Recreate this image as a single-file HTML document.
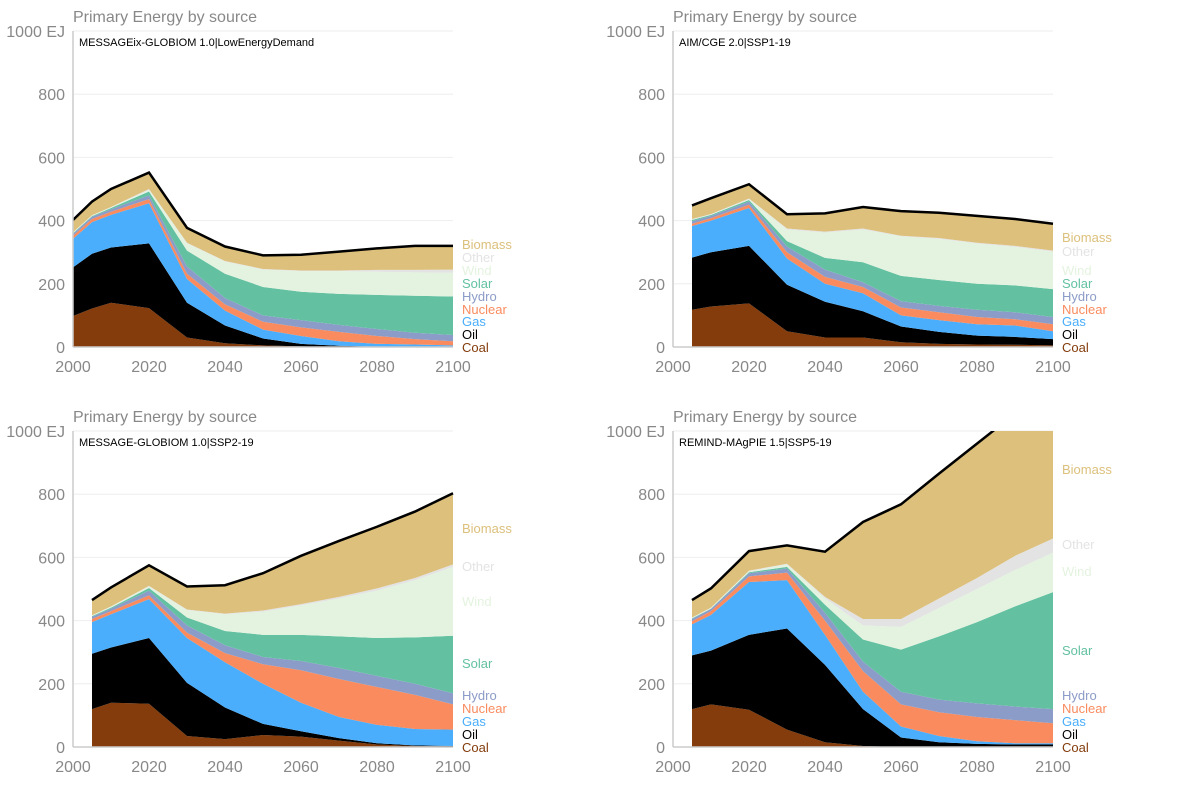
<!DOCTYPE html>
<html><head><meta charset="utf-8"><style>
body{margin:0;background:#fff;width:1200px;height:800px;overflow:hidden;font-family:"Liberation Sans",sans-serif}
svg{position:absolute;left:0;top:0}
</style></head><body>
<svg id="c" width="1200" height="800"></svg>
<script>
const seriesNames=["Coal","Oil","Gas","Nuclear","Hydro","Solar","Wind","Other","Biomass"];
const seriesColors=["#843c0c","#000000","#4aaefc","#f98b5e","#8c9cc8","#63c1a2","#e4f3df","#e3e3e3","#dcc07c"];
const yTicks=[0,200,400,600,800,1000];
const xTicks=[2000,2020,2040,2060,2080,2100];
const years1=[2000,2005,2010,2020,2030,2040,2050,2060,2070,2080,2090,2100];
const yearsB=[2005,2010,2020,2030,2040,2050,2060,2070,2080,2090,2100];
const p1Coal=[98,122,140,123,30,12,5,2,0,0,0,0];
const p1Oil=[154,173,175,205,110,56,22,8,4,1,0,0];
const p1Gas=[90,100,103,127,75,47,28,25,14,9,8,5];
const p1Nuclear=[10,10,10,13,17,20,25,27,30,25,17,13];
const p1Hydro=[6,7,8,12,23,20,20,23,22,22,20,20];
const p1Solar=[2,2,4,12,50,77,90,90,98,108,117,122];
const p1Wind=[2,2,2,5,23,38,55,65,72,73,74,75];
const p1Other=[1,1,1,3,2,2,2,2,2,6,8,10];
const p1Biomass=[39,43,57,52,47,46,43,50,60,68,76,75];
const p2Coal=[118,128,138,50,30,30,15,10,8,7,5];
const p2Oil=[165,172,182,147,113,83,50,38,28,25,20];
const p2Gas=[100,100,120,83,57,57,35,37,36,36,25];
const p2Nuclear=[7,8,10,20,22,20,25,25,23,20,22];
const p2Hydro=[8,7,10,18,23,15,20,20,23,22,23];
const p2Solar=[4,3,5,17,37,63,80,82,82,85,88];
const p2Wind=[1,1,3,37,80,104,125,130,127,122,119];
const p2Other=[2,2,2,3,3,3,2,3,3,3,3];
const p2Biomass=[43,50,45,45,58,68,78,80,85,85,85];
const p3Coal=[120,140,137,35,25,38,33,20,8,3,2];
const p3Oil=[175,175,208,168,100,35,17,8,4,2,1];
const p3Gas=[100,105,123,142,143,127,90,67,58,52,52];
const p3Nuclear=[10,10,12,17,29,62,103,120,120,108,80];
const p3Hydro=[7,8,15,23,25,23,29,35,35,35,35];
const p3Solar=[2,3,8,25,45,70,83,100,120,147,182];
const p3Wind=[2,3,5,23,53,73,93,120,150,181,218];
const p3Other=[1,1,2,2,2,4,4,5,7,7,8];
const p3Biomass=[48,60,65,73,90,118,153,177,195,210,225];
const p4Coal=[120,135,118,55,15,3,0,0,0,0,0];
const p4Oil=[170,170,237,320,245,117,30,15,10,8,8];
const p4Gas=[98,113,167,153,95,55,35,20,8,4,4];
const p4Nuclear=[10,12,18,24,45,65,70,75,77,73,63];
const p4Hydro=[7,7,10,13,25,30,40,40,43,43,45];
const p4Solar=[2,1,3,5,25,70,133,200,257,317,370];
const p4Wind=[2,2,3,8,20,45,72,90,105,115,125];
const p4Other=[1,1,2,2,5,20,25,30,35,45,45];
const p4Biomass=[55,61,62,58,143,307,363,395,425,450,490];
const scenarios=["MESSAGEix-GLOBIOM 1.0|LowEnergyDemand","AIM/CGE 2.0|SSP1-19","MESSAGE-GLOBIOM 1.0|SSP2-19","REMIND-MAgPIE 1.5|SSP5-19"];

const panels=[
 {x0:73,x1:453,yb:347,years:years1,data:[p1Coal,p1Oil,p1Gas,p1Nuclear,p1Hydro,p1Solar,p1Wind,p1Other,p1Biomass],lab:[347,334,321,309,296,283,270,257,244]},
 {x0:673,x1:1053,yb:347,years:yearsB,data:[p2Coal,p2Oil,p2Gas,p2Nuclear,p2Hydro,p2Solar,p2Wind,p2Other,p2Biomass],lab:[347,334,321,309,296,283,270,251,237]},
 {x0:73,x1:453,yb:747,years:yearsB,data:[p3Coal,p3Oil,p3Gas,p3Nuclear,p3Hydro,p3Solar,p3Wind,p3Other,p3Biomass],lab:[747,734,721,708,695,663,601,566,528]},
 {x0:673,x1:1053,yb:747,years:yearsB,data:[p4Coal,p4Oil,p4Gas,p4Nuclear,p4Hydro,p4Solar,p4Wind,p4Other,p4Biomass],lab:[747,734,721,708,695,650,571,544,469]}
];
const NS="http://www.w3.org/2000/svg";
const svg=document.getElementById('c');
function mk(t,a,p){const e=document.createElementNS(NS,t);for(const k in a)e.setAttribute(k,a[k]);(p||svg).appendChild(e);return e;}
panels.forEach((P,pi)=>{
 const H=316;
 const sx=v=>P.x0+(v-2000)/100*(P.x1-P.x0);
 const sy=v=>P.yb-v/1000*H;
 const g=mk('g',{});
 
 
 yTicks.forEach(t=>{
  if(t>0){const l=mk('line',{x1:P.x0,x2:P.x1,y1:sy(t),y2:sy(t),stroke:'#eeeeee','stroke-width':1},g);
  }
  const tx=mk('text',{x:P.x0-8,y:sy(t)+6,'text-anchor':'end','font-size':16,fill:'#888'},g);
  tx.textContent=t===1000?'1000 EJ':t;
  
 });
 xTicks.forEach(t=>{
  const tx=mk('text',{x:sx(t),y:P.yb+25,'text-anchor':'middle','font-size':16,fill:'#888'},g);
  tx.textContent=t;
  
 });
 const cid='clip'+pi;
 const cp=mk('clipPath',{id:cid},g);mk('rect',{x:P.x0,y:P.yb-H,width:P.x1-P.x0+1,height:H},cp);
 const ag=mk('g',{'clip-path':'url(#'+cid+')'},g);
 let base=P.years.map(()=>0);
 P.data.forEach((vals,si)=>{
  const top=base.map((b,i)=>b+vals[i]);
  let d='M'+P.years.map((y,i)=>sx(y)+','+sy(top[i])).join('L');
  for(let i=P.years.length-1;i>=0;i--)d+='L'+sx(P.years[i])+','+sy(base[i]);
  const a=mk('path',{d:d+'Z',fill:seriesColors[si]},ag);
  
  
  base=top;
 });
 const tl=mk('polyline',{points:P.years.map((y,i)=>sx(y)+','+sy(base[i])).join(' '),fill:'none',stroke:'#000','stroke-width':2.5},ag);
 
 const ax=mk('line',{x1:P.x0,x2:P.x0,y1:P.yb-H,y2:P.yb,stroke:'#ccc','stroke-width':1.5},g);
 
 const bx=mk('line',{x1:P.x0,x2:P.x1,y1:P.yb,y2:P.yb,stroke:'#ccc','stroke-width':1.5},g);
 
 const ti=mk('text',{x:P.x0,y:P.yb-H-9,'font-size':16,fill:'#888'},g);
 ti.textContent='Primary Energy by source';
 
 const st=mk('text',{x:P.x0+6,y:P.yb-H+15,'font-size':11,fill:'#000'},g);
 st.textContent=scenarios[pi];
 
 seriesNames.forEach((n,si)=>{
  const t=mk('text',{x:P.x1+9,y:P.lab[si]+5,'font-size':13,fill:seriesColors[si]===' #000000'?'#000':seriesColors[si]},g);
  t.textContent=n;
  
  
 });
});
</script>
</body></html>
